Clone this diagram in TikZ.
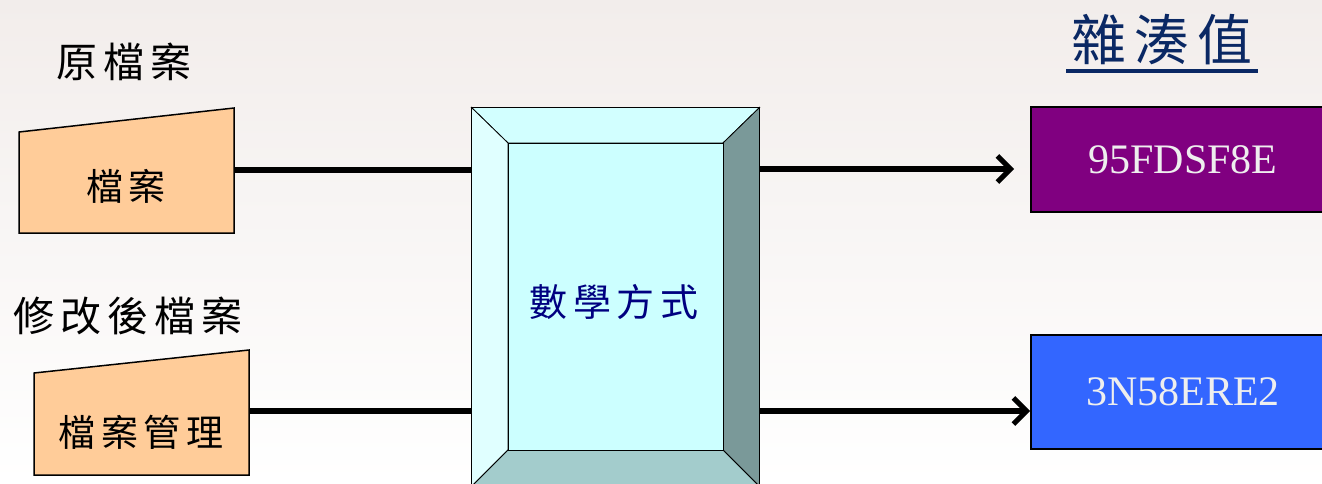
\documentclass[tikz,border=0pt]{standalone}
\usepackage{fontspec}
\setmainfont{Liberation Serif}
\newfontfamily\cjk[LetterSpace=15]{Noto Sans CJK TC}
\usetikzlibrary{arrows.meta}
\definecolor{bgtop}{RGB}{242,237,235}
\definecolor{filefill}{RGB}{255,204,153}
\definecolor{bevtop}{RGB}{210,255,255}
\definecolor{bevleft}{RGB}{224,255,255}
\definecolor{bevin}{RGB}{204,255,255}
\definecolor{bevright}{RGB}{122,153,153}
\definecolor{bevbot}{RGB}{163,204,204}
\definecolor{navytxt}{RGB}{0,0,128}
\definecolor{titleblue}{RGB}{10,40,100}
\definecolor{hashpurple}{RGB}{128,0,128}
\definecolor{hashblue}{RGB}{51,102,255}
\definecolor{hashtxt}{RGB}{238,238,238}
\tikzset{
  filebox/.style={draw=black, line width=1.5pt, fill=filefill},
  conn/.style={line width=5.5pt},
  arr/.style={line width=5.5pt, -{Straight Barb[length=13pt,width=26pt,line width=5pt]}},
  hashbox/.style={draw=black, line width=2pt, minimum width=304pt, inner sep=0pt, text=hashtxt, font=\fontsize{42}{44}\selectfont},
  lbl/.style={inner sep=0pt, font=\cjk\fontsize{41}{43}\selectfont}
}
\begin{document}
\begin{tikzpicture}[x=1pt,y=-1pt]
\useasboundingbox (0,0) rectangle (1322,483);
\clip (0,0) rectangle (1322,483);
\shade[top color=bgtop, bottom color=white] (0,0) rectangle (1322,483);

% labels
\node[lbl] (l1) at (124,62) {原檔案};
\node[lbl] (l2) at (128,316) {修改後檔案};
\node[lbl, text=titleblue, font=\cjk\fontsize{55}{57}\selectfont] (title) at (1162,40) {雜湊值};
\draw[titleblue, line width=3.5pt] (1066,71) -- (1258,71);

% file shapes
\draw[filebox] (19,132) -- (234,108) -- (234,233) -- (19,233) -- cycle;
\node[lbl, font=\cjk\fontsize{37}{39}\selectfont] (f1) at (126,186) {檔案};
\coordinate (f1e) at (234,170);
\draw[filebox] (34,373) -- (249,350) -- (249,475) -- (34,475) -- cycle;
\node[lbl, font=\cjk\fontsize{37}{39}\selectfont] (f2) at (141,432) {檔案管理};
\coordinate (f2e) at (249,411);

% process (bevel)
\node[draw=black, line width=1pt, fill=bevin, minimum width=287pt, minimum height=378pt, inner sep=0pt] (proc) at (615.5,297) {};
\coordinate (i1) at (508,143);
\coordinate (i2) at (723,143);
\coordinate (i3) at (723,450);
\coordinate (i4) at (508,450);
\draw[fill=bevtop, line width=0.8pt] (proc.north west) -- (proc.north east) -- (i2) -- (i1) -- cycle;
\draw[fill=bevleft, line width=0.8pt] (proc.north west) -- (i1) -- (i4) -- (proc.south west) -- cycle;
\draw[fill=bevright, line width=0.8pt] (proc.north east) -- (proc.south east) -- (i3) -- (i2) -- cycle;
\draw[fill=bevbot, line width=0.8pt] (proc.south west) -- (i4) -- (i3) -- (proc.south east) -- cycle;
\draw[line width=1pt] (proc.north west) rectangle (proc.south east);
\draw[line width=0.8pt, fill=bevin] (i1) rectangle (i3);
\node[lbl, text=navytxt, font=\cjk\fontsize{38}{40}\selectfont] (ptxt) at (614,302) {數學方式};

% hash outputs
\node[hashbox, fill=hashpurple, minimum height=105pt] (h1) at (1183,159.5) {95FDSF8E};
\node[hashbox, fill=hashblue, minimum height=114pt] (h2) at (1183,392) {3N58ERE2};

% connectors
\draw[conn] (f1e) -- (proc.west |- f1e);
\draw[conn] (f2e) -- (proc.west |- f2e);
\coordinate (o1) at (proc.east |- 0,169);
\coordinate (o2) at (proc.east |- 0,411);
\draw[arr, shorten >=16pt] (o1) -- (h1.west |- o1);
\draw[arr] (o2) -- (h2.west |- o2);
\end{tikzpicture}
\end{document}
